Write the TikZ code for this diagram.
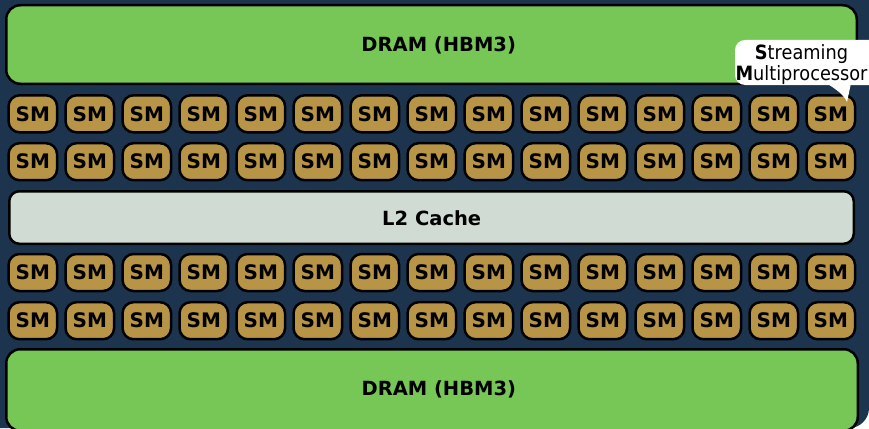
\documentclass[tikz,border=0pt]{standalone}
\usepackage{fontspec}
\setmainfont{DejaVu Sans}
\newfontfamily\condfont{DejaVu Sans}[FakeStretch=0.9]
\definecolor{bgc}{RGB}{29,52,79}
\definecolor{dramc}{RGB}{119,199,87}
\definecolor{smc}{RGB}{184,149,70}
\definecolor{ltwoc}{RGB}{207,219,211}
\begin{document}
\begin{tikzpicture}[x=1pt,y=-1pt,
  blk/.style={draw=black,line width=2.5pt,inner sep=0pt},
  smbox/.style={blk,fill=smc,rounded corners=11pt,minimum width=48.5pt,minimum height=37pt,font=\fontsize{20}{22}\selectfont\bfseries},
  bigtext/.style={font=\fontsize{19.5}{22}\selectfont\bfseries,inner sep=0pt}]
\useasboundingbox (0,0) rectangle (869,428);
\clip (0,0) rectangle (869,428);
\fill[white] (0,0) rectangle (869,428);
\fill[bgc,rounded corners=20pt] (-40,-40) rectangle (869,428);
% DRAM top
\node[blk,fill=dramc,rounded corners=14pt,minimum width=850.5pt,minimum height=78.5pt] (dramtop) at (431.5,44.5) {};
\node[bigtext] (dramtoptext) at (438.7,45) {DRAM (HBM3)};
% L2
\node[blk,fill=ltwoc,rounded corners=10pt,minimum width=844.5pt,minimum height=52.5pt] (ltwo) at (431.5,217.5) {};
\node[bigtext] (ltwotext) at (431.7,218) {L2 Cache};
% DRAM bottom
\node[blk,fill=dramc,rounded corners=14pt,minimum width=851.5pt,minimum height=81.5pt] (drambot) at (432,390) {};
\node[bigtext] (drambottext) at (438.8,389) {DRAM (HBM3)};
% SMs
\foreach \r/\yy in {1/113.8,2/161.7,3/272.5,4/320.7}{
  \foreach \i in {0,...,14}{
    \node[smbox] (sm-\r-\i) at ({32.8+57*\i},\yy) {SM};
  }
}
% bubble
\fill[white,rounded corners=10pt] (735,40) rectangle (885,85);
\fill[white] (826,83) .. controls (836,89) and (844,95) .. (847,102) -- (851,83) -- cycle;
\node[align=center,font=\condfont\fontsize{19.7}{21}\selectfont,inner sep=0pt] (bubtext) at (801.5,64.7) {\textbf{S}treaming\\\textbf{M}ultiprocessor};
\end{tikzpicture}
\end{document}
